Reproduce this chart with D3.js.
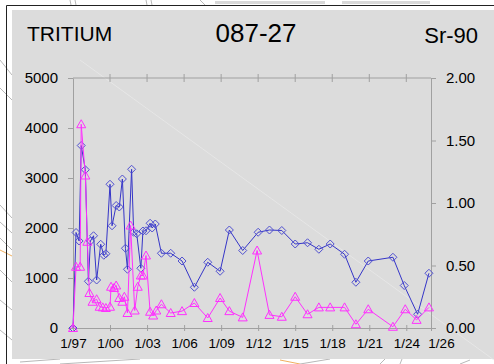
<!DOCTYPE html>
<html>
  <head>
    <meta charset="utf-8" />
    <title>087-27 Tritium / Sr-90</title>
    <script src="https://d3js.org/d3.v7.min.js"></script>
    <style>
      body { margin: 0; background: #fff; }
      svg { display: block; font-family: "Liberation Sans", Arial, sans-serif; }
    </style>
  </head>
  <body>
    <svg id="chart"></svg>
    <script>
      // tritium (left axis, pCi/L) - sample dates and values
      var tritiumDates = ["1997-01","1997-04","1997-07","1997-09","1998-01","1998-04","1998-06","1998-09",
        "1998-12","1999-04","1999-07","1999-09","2000-01","2000-03","2000-07","2000-10","2001-01","2001-04",
        "2001-06","2001-10","2001-12","2002-03","2002-07","2002-09","2002-12","2003-04","2003-06","2003-09",
        "2004-03","2004-12","2005-11","2006-11","2007-12","2008-12","2009-09","2010-10","2012-01","2012-12",
        "2013-12","2015-01","2016-01","2016-12","2017-11","2019-01","2019-12","2020-12","2022-12","2023-11",
        "2024-12","2025-11"];
      var tritiumValues = [0,1910,1740,3650,3165,935,1740,1845,
        960,1675,1455,1485,2875,2045,2450,2420,2980,1595,
        1175,3175,1915,1885,1195,1940,1945,2095,2000,2080,
        1495,1495,1340,815,1315,1135,1960,1550,1915,1960,
        1950,1680,1705,1575,1680,1475,915,1340,1415,850,
        275,1095];

      // Sr-90 (right axis) - sample dates and values
      var srDates = ["1997-01","1997-04","1997-08","1997-09","1998-01","1998-03","1998-05","1998-08",
        "1998-12","1999-03","1999-06","1999-09","2000-01","2000-02","2000-05","2000-07","2000-10","2001-01",
        "2001-03","2001-06","2001-09","2002-01","2002-04","2002-07","2002-09","2002-12","2003-04","2003-07",
        "2003-10","2004-03","2004-12","2005-11","2006-11","2007-12","2008-12","2009-09","2010-10","2011-12",
        "2012-12","2013-12","2015-01","2016-01","2016-12","2017-11","2019-01","2019-12","2020-12","2022-12",
        "2023-12","2024-11","2025-11"];
      var srValues = [0,0.49,0.49,1.63,1.22,0.69,0.28,0.21,
        0.23,0.17,0.165,0.16,0.17,0.33,0.32,0.34,0.24,0.21,
        0.25,0.12,0.82,0.14,0.33,0.42,0.42,0.58,0.13,0.10,
        0.14,0.19,0.12,0.135,0.20,0.08,0.24,0.135,0.085,0.62,
        0.105,0.09,0.25,0.11,0.165,0.165,0.165,0.03,0.15,0.01,
        0.15,0.065,0.165];

      var xTickDates = ["1997-01","2000-01","2003-01","2006-01","2009-01","2012-01","2015-01","2018-01",
        "2021-01","2024-01","2026-01"];
      var xTickLabels = ["1/97","1/00","1/03","1/06","1/09","1/12","1/15","1/18","1/21","1/24","1/26"];
      var leftTicks = [0, 1000, 2000, 3000, 4000, 5000];
      var rightTicks = [0, 0.5, 1, 1.5, 2];

      var W = 494, H = 364;
      var parse = d3.timeParse("%Y-%m");
      var svg = d3.select("#chart").attr("width", W).attr("height", H);

      // sketchy background lines outside the panel
      var deco = svg.append("g").attr("fill", "none").attr("stroke", "#b8b8b8").attr("stroke-width", 1);
      [[[0,60],[12,75]],[[0,88],[12,100]],[[0,205],[12,218]],[[0,222],[12,233]],[[0,238],[12,250]],
       [[0,270],[12,282]],[[0,300],[12,310]],[[0,330],[12,340]],
       [[70,0],[71,5]],[[75,0],[76,5]],[[146,0],[147,5]],[[151,0],[152,5]],[[200,0],[205,5]],
       [[60,364],[140,359]],[[20,362],[60,359]],[[300,364],[330,359]],[[380,364],[385,359]],[[400,364],[402,359]],
       [[460,364],[470,360]]].forEach(function (p) {
        deco.append("path").attr("d", d3.line()(p));
      });
      deco.append("path").attr("d", d3.line()([[0,250],[12,256]])).attr("stroke", "#f0b060");
      deco.append("path").attr("d", d3.line()([[280,360],[300,364]])).attr("stroke", "#f0b060");
      deco.append("rect").attr("x", 215).attr("y", 1).attr("width", 110).attr("height", 3).attr("fill", "#d8d8d8").attr("stroke", "none");
      deco.append("rect").attr("x", 342).attr("y", 1).attr("width", 88).attr("height", 3).attr("fill", "#d8d8d8").attr("stroke", "none");

      // frame + panel
      svg.append("path").attr("d", "M6.5,364V5.5H494").attr("fill", "none").attr("stroke", "#222").attr("stroke-width", 1);
      svg.append("rect").attr("x", 12).attr("y", 10).attr("width", W - 12).attr("height", 349).attr("fill", "#dcdcdc");
      svg.append("line").attr("x1", 80).attr("y1", 60).attr("x2", 494).attr("y2", 360)
        .attr("stroke", "#e9e9e9").attr("stroke-width", 0.8);

      var x = d3.scaleTime().domain([parse("1997-01"), parse("2026-01")]).range([73, 431]);
      var yL = d3.scaleLinear().domain([0, 5000]).range([328, 78]);
      var yR = d3.scaleLinear().domain([0, 2]).range([328, 78]);

      var axisColor = "#a0a0a0";
      // bottom axis
      var gb = svg.append("g").attr("transform", "translate(0,328)")
        .call(d3.axisBottom(x).tickValues(xTickDates.map(parse)).tickSizeInner(0).tickSizeOuter(0)
          .tickFormat(function (d, i) { return xTickLabels[i]; }).tickPadding(10));
      gb.select(".domain").attr("stroke", axisColor);
      gb.selectAll(".tick text").attr("font-size", 13.5).attr("fill", "#000").attr("font-family", "Liberation Sans, Arial, sans-serif");
      // last label sits to the right of the final tick, as in the original
      gb.selectAll(".tick text").filter(function (d, i) { return i === xTickLabels.length - 1; }).attr("dx", 10);
      gb.selectAll(".tick").append("line").attr("y1", -3).attr("y2", 3).attr("stroke", axisColor);

      // top line with ticks
      var gt = svg.append("g").attr("transform", "translate(0,78)");
      gt.append("line").attr("x1", 73).attr("x2", 431).attr("stroke", axisColor);
      gt.selectAll("line.t").data(xTickDates.slice(1, -1)).enter().append("line").attr("class", "t")
        .attr("x1", function (d) { return x(parse(d)); }).attr("x2", function (d) { return x(parse(d)); })
        .attr("y1", -4).attr("y2", 4).attr("stroke", axisColor);

      // left axis
      var gl = svg.append("g").attr("transform", "translate(73,0)")
        .call(d3.axisLeft(yL).tickValues(leftTicks).tickSize(5).tickSizeOuter(0).tickPadding(10).tickFormat(d3.format("d")));
      gl.select(".domain").attr("stroke", axisColor);
      gl.selectAll(".tick line").attr("stroke", axisColor);
      gl.selectAll(".tick text").attr("font-size", 15).attr("fill", "#000").attr("font-family", "Liberation Sans, Arial, sans-serif");

      // right axis
      var gr = svg.append("g").attr("transform", "translate(431,0)")
        .call(d3.axisRight(yR).tickValues(rightTicks).tickSize(5).tickSizeOuter(0).tickPadding(10).tickFormat(d3.format(".2f")));
      gr.select(".domain").attr("stroke", axisColor);
      gr.selectAll(".tick line").attr("stroke", axisColor);
      gr.selectAll(".tick text").attr("font-size", 15).attr("fill", "#000").attr("font-family", "Liberation Sans, Arial, sans-serif");

      // titles
      svg.append("text").attr("x", 27).attr("y", 41).attr("font-size", 21).text("TRITIUM");
      svg.append("text").attr("x", 256).attr("y", 41.5).attr("font-size", 26).attr("text-anchor", "middle").text("087-27");
      svg.append("text").attr("x", 478).attr("y", 43).attr("font-size", 22).attr("text-anchor", "end").text("Sr-90");

      // series
      var tri = tritiumDates.map(function (d, i) { return { d: parse(d), v: tritiumValues[i] }; });
      var sr = srDates.map(function (d, i) { return { d: parse(d), v: srValues[i] }; });

      var blue = "#3535c8", magenta = "#ff30ff";

      svg.append("path").datum(tri).attr("fill", "none").attr("stroke", blue).attr("stroke-width", 1)
        .attr("d", d3.line().x(function (d) { return x(d.d); }).y(function (d) { return yL(d.v); }));
      svg.append("g").selectAll("path").data(tri).enter().append("path")
        .attr("transform", function (d) { return "translate(" + x(d.d) + "," + yL(d.v) + ")"; })
        .attr("d", "M0,-4L4,0L0,4L-4,0Z").attr("fill", "none").attr("stroke", "#5050d0").attr("stroke-width", 1);

      svg.append("path").datum(sr).attr("fill", "none").attr("stroke", magenta).attr("stroke-width", 1)
        .attr("d", d3.line().x(function (d) { return x(d.d); }).y(function (d) { return yR(d.v); }));
      svg.append("g").selectAll("path").data(sr).enter().append("path")
        .attr("transform", function (d) { return "translate(" + x(d.d) + "," + yR(d.v) + ")"; })
        .attr("d", "M0,-4.5L4.5,3.5L-4.5,3.5Z").attr("fill", "none").attr("stroke", magenta).attr("stroke-width", 1);
    </script>
  </body>
</html>
